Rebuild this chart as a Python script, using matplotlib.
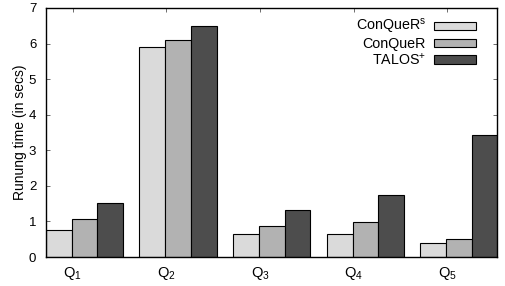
import matplotlib
matplotlib.use("Agg")
import matplotlib.pyplot as plt
import numpy as np

plt.rcParams['font.family'] = ['Liberation Sans', 'DejaVu Sans']
plt.rcParams['font.size'] = 10
plt.rcParams['mathtext.fontset'] = 'custom'
plt.rcParams['mathtext.rm'] = 'Liberation Sans'
plt.rcParams['mathtext.it'] = 'Liberation Sans'

categories = [r'Q$_1$', r'Q$_2$', r'Q$_3$', r'Q$_4$', r'Q$_5$']
series_names = [r'ConQueR$^\mathregular{s}$', 'ConQueR', r'TALOS$^\mathregular{+}$']
conquer_s = [0.76, 5.9, 0.64, 0.64, 0.40]
conquer = [1.07, 6.1, 0.88, 0.99, 0.50]
talos = [1.53, 6.5, 1.32, 1.74, 3.43]
colors = ['#dadada', '#b2b2b2', '#4d4d4d']
y_ticks = [0, 1, 2, 3, 4, 5, 6, 7]

fig = plt.figure(figsize=(5.06, 2.86), dpi=100)
ax = fig.add_axes([46/506, 1-257/286, 451.5/506, 249/286])

x = np.arange(len(categories))
w = 0.275
for k, (vals, name, c) in enumerate(zip([conquer_s, conquer, talos], series_names, colors)):
    ax.bar(x + (k - 1) * w, vals, width=w, color=c, edgecolor='black', linewidth=0.8, label=name, zorder=2)

ax.set_xlim(-0.41, len(categories) - 1 + 0.41)
ax.set_ylim(0, 7)
ax.set_yticks(y_ticks)
ax.set_xticks(x - 0.124)
ax.set_xticklabels(categories, fontsize=10.5)
ax.tick_params(axis='both', direction='in', top=True, right=True, length=3, width=0.6, color='#555555')
ax.tick_params(axis='y', pad=7, labelsize=9.5)
ax.tick_params(axis='x', pad=6)
for s in ax.spines.values():
    s.set_linewidth(1.0)
    s.set_color('black')
    s.set_zorder(3)

ax.set_ylabel('Runung time (in secs)', fontsize=10)
ax.yaxis.set_label_coords(-0.042, 0.5)

leg = ax.legend(loc='upper right', bbox_to_anchor=(0.952, 0.963), frameon=False,
                markerfirst=False, handlelength=2.9, handleheight=0.5,
                handletextpad=0.6, labelspacing=0.05, borderpad=0, borderaxespad=0,
                fontsize=10.3)

fig.savefig('out.png', dpi=100)
